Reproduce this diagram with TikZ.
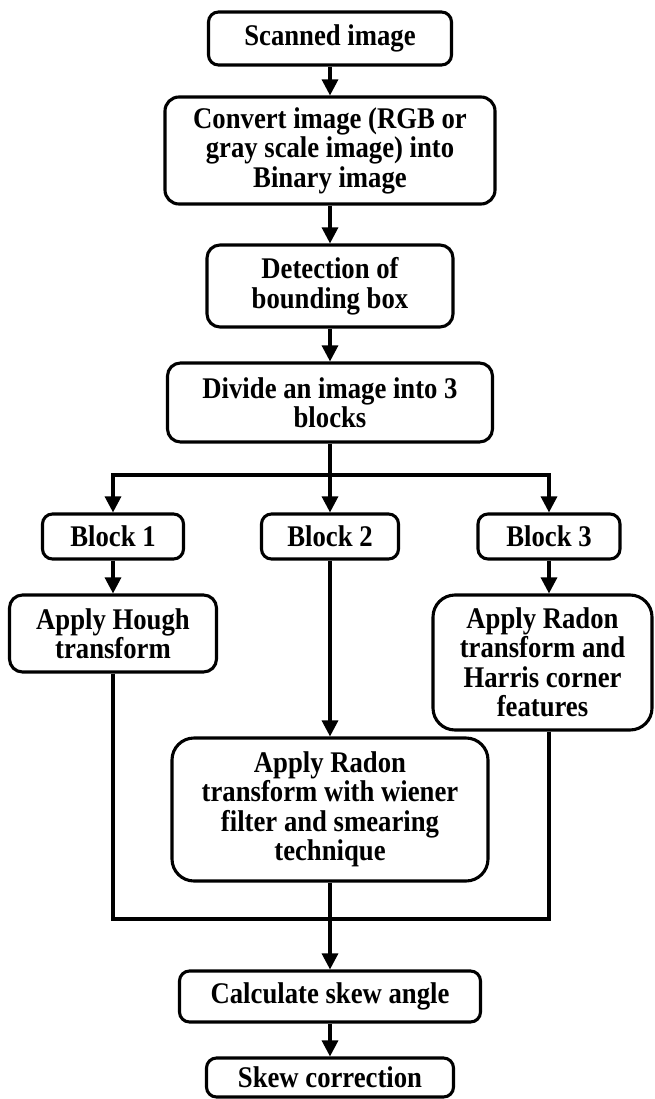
\documentclass[tikz,border=0pt]{standalone}
\usepackage{fontspec}
\setmainfont{Liberation Serif}[FakeStretch=0.89]
\usetikzlibrary{arrows.meta}
\begin{document}
\begin{tikzpicture}[x=1pt,y=-1pt,
  box/.style={draw, line width=3.1pt, rounded corners=10pt, align=center,
    font=\fontsize{30}{29.5}\selectfont\bfseries, inner sep=0pt},
  arr/.style={line width=3.1pt, -{Triangle[length=16pt,width=16pt]}},
  ln/.style={line width=3.1pt}]
\useasboundingbox (0,0) rectangle (655,1099);
\node[box, minimum width=243pt, minimum height=53pt] (scan) at (330,38.5) {Scanned image};
\node[box, minimum width=330pt, minimum height=107pt, rounded corners=14pt] (conv) at (330,150.5) {Convert image (RGB or\\gray scale image) into\\Binary image};
\node[box, minimum width=246pt, minimum height=82pt, rounded corners=13pt] (det) at (330,286) {Detection of\\bounding box};
\node[box, minimum width=325pt, minimum height=79pt, rounded corners=13pt] (div) at (330,402.5) {Divide an image into 3\\blocks};
\node[box, minimum width=141pt, minimum height=45pt] (b1) at (113,536.5) {Block 1};
\node[box, minimum width=137pt, minimum height=45pt] (b2) at (330,536.5) {Block 2};
\node[box, minimum width=142pt, minimum height=45pt] (b3) at (549,536.5) {Block 3};
\node[box, minimum width=207pt, minimum height=77pt, rounded corners=13pt] (hough) at (113,633.5) {Apply Hough\\transform};
\node[box, minimum width=219pt, minimum height=135pt, rounded corners=22pt] (harris) at (542.5,662.5) {Apply Radon\\transform and\\Harris corner\\features};
\node[box, minimum width=316pt, minimum height=143pt, rounded corners=22pt] (wien) at (330,809.5) {Apply Radon\\transform with wiener\\filter and smearing\\technique};
\node[box, minimum width=301pt, minimum height=51pt] (calc) at (330,996.5) {Calculate skew angle};
\node[box, minimum width=247pt, minimum height=39pt] (skew) at (330,1077.5) {Skew correction};
\coordinate (br) at (330,475);
\coordinate (mg) at (330,919);
\draw[arr] (scan) -- (conv);
\draw[arr] (conv) -- (det);
\draw[arr] (det) -- (div);
\draw[ln] (div.south) -- (br);
\draw[arr] (br) -| (b1.north);
\draw[arr] (br) -- (b2.north);
\draw[arr] (br) -| (b3.north);
\draw[arr] (b1) -- (hough);
\draw[arr] (b2) -- (wien);
\draw[arr] (b3.south) -- (b3.south |- harris.north);
\draw[ln] (hough.south) |- (mg);
\draw[ln] (harris.south -| b3.south) |- (mg);
\draw[arr] (wien) -- (calc);
\draw[arr] (calc) -- (skew);
\end{tikzpicture}
\end{document}
